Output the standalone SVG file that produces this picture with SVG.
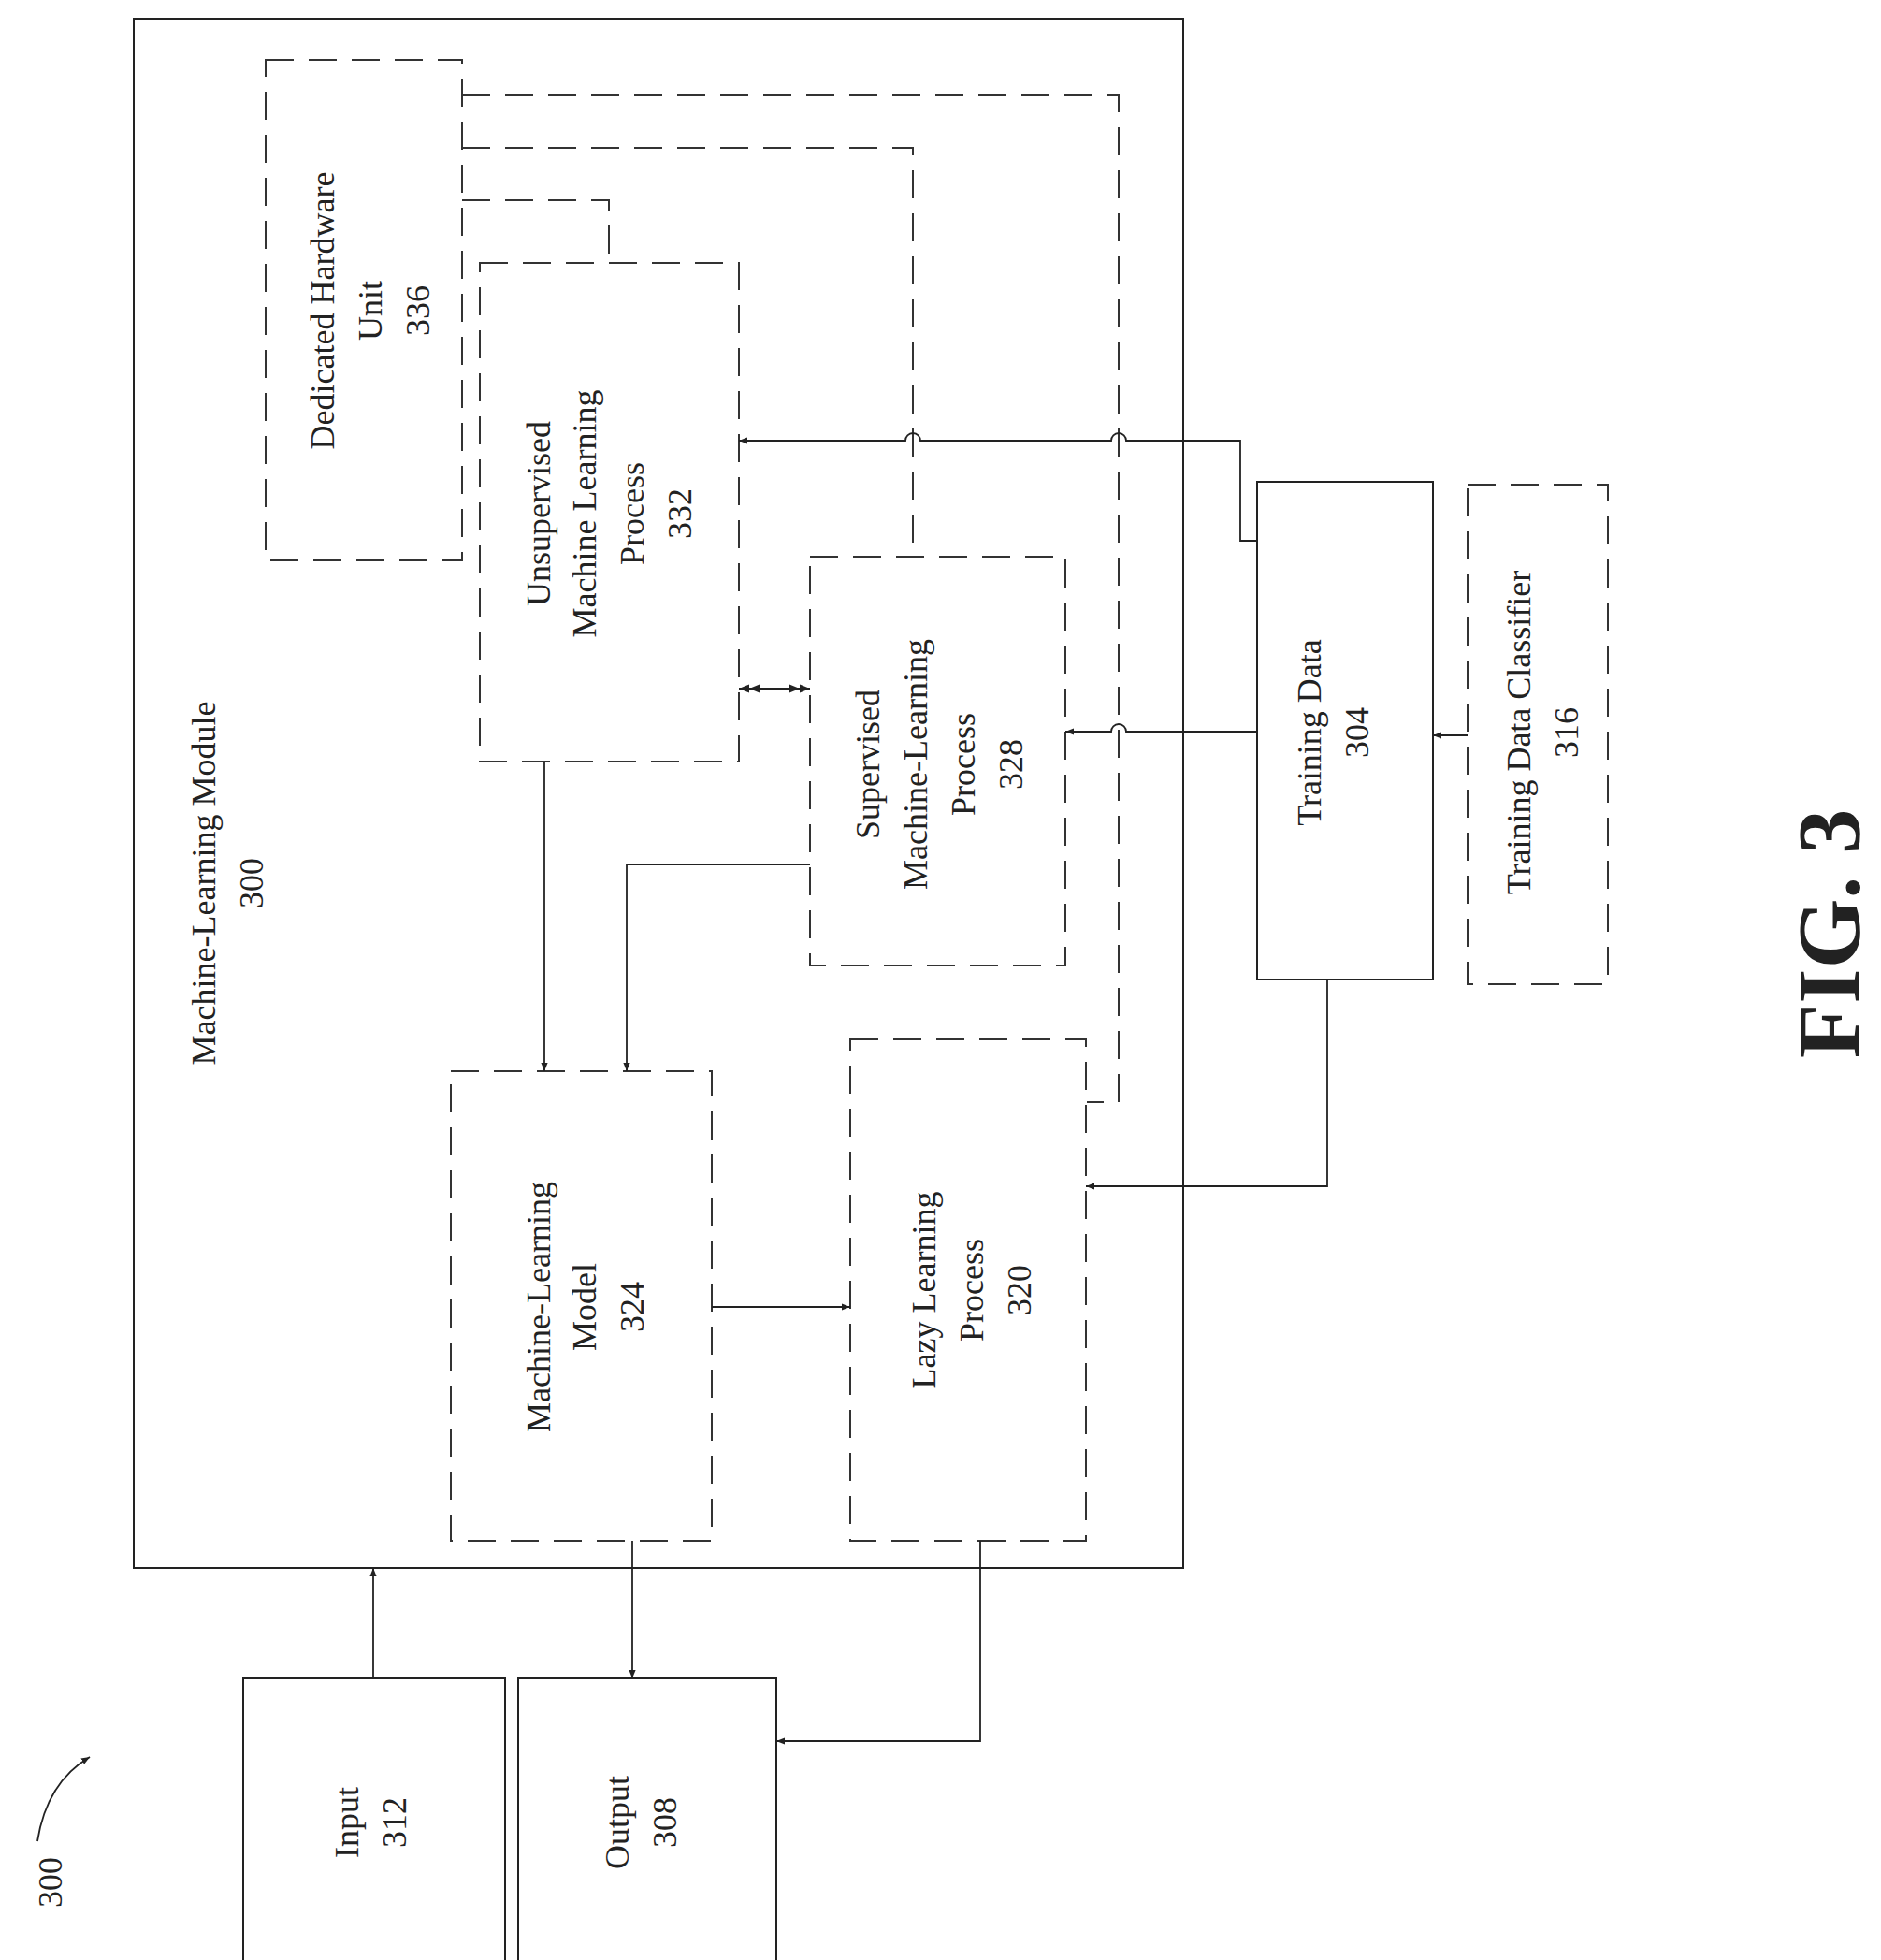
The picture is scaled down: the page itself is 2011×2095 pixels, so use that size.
<svg xmlns="http://www.w3.org/2000/svg" width="2011" height="2095" viewBox="0 0 2011 2095">
<style>
.s{fill:none;stroke:#222;stroke-width:2}
.d{fill:none;stroke:#333;stroke-width:2;stroke-dasharray:30 16}
.c{fill:none;stroke:#222;stroke-width:1.8}
text{font-family:"Liberation Serif","Times New Roman",serif;font-size:36px;fill:#222;text-anchor:middle;dominant-baseline:central}
</style>
<defs>
<marker id="a" viewBox="0 0 10 10" refX="10" refY="5" markerWidth="9" markerHeight="9" markerUnits="userSpaceOnUse" orient="auto-start-reverse"><path d="M0,1 L10,5 L0,9 Z" fill="#222"/></marker>
<marker id="a2" viewBox="0 0 20 10" refX="20" refY="5" markerWidth="22" markerHeight="11" markerUnits="userSpaceOnUse" orient="auto-start-reverse"><path d="M0,1 L10,5 L0,9 Z M10,1 L20,5 L10,9 Z" fill="#222"/></marker>
</defs>
<g id="module300"><rect class="s" x="143" y="20" width="1122" height="1656"/>
<text transform="translate(218,944) rotate(-90)" x="0" y="0">Machine-Learning Module</text>
<text transform="translate(269,944) rotate(-90)">300</text></g>
<g id="hw336"><rect class="d" x="284" y="64" width="210" height="535"/>
<text transform="translate(345,332) rotate(-90)">Dedicated Hardware</text>
<text transform="translate(396,332) rotate(-90)">Unit</text>
<text transform="translate(447,332) rotate(-90)">336</text></g>
<g id="unsup332"><rect class="d" x="513" y="281" width="277" height="533"/>
<text transform="translate(576,549) rotate(-90)">Unsupervised</text>
<text transform="translate(625,549) rotate(-90)">Machine Learning</text>
<text transform="translate(676,549) rotate(-90)">Process</text>
<text transform="translate(727,549) rotate(-90)">332</text></g>
<g id="sup328"><rect class="d" x="866" y="595" width="273" height="437"/>
<text transform="translate(928,817) rotate(-90)">Supervised</text>
<text transform="translate(979,817) rotate(-90)">Machine-Learning</text>
<text transform="translate(1030,817) rotate(-90)">Process</text>
<text transform="translate(1081,817) rotate(-90)">328</text></g>
<g id="train304"><rect class="s" x="1344" y="515" width="188" height="532"/>
<text transform="translate(1400,783) rotate(-90)">Training Data</text>
<text transform="translate(1451,783) rotate(-90)">304</text></g>
<g id="classifier316"><rect class="d" x="1569" y="518" width="150" height="534"/>
<text transform="translate(1624,783) rotate(-90)">Training Data Classifier</text>
<text transform="translate(1675,783) rotate(-90)">316</text></g>
<g id="model324"><rect class="d" x="482" y="1145" width="279" height="502"/>
<text transform="translate(576,1397) rotate(-90)">Machine-Learning</text>
<text transform="translate(625,1397) rotate(-90)">Model</text>
<text transform="translate(676,1397) rotate(-90)">324</text></g>
<g id="lazy320"><rect class="d" x="909" y="1111" width="252" height="536"/>
<text transform="translate(988,1379) rotate(-90)">Lazy Learning</text>
<text transform="translate(1039,1379) rotate(-90)">Process</text>
<text transform="translate(1090,1379) rotate(-90)">320</text></g>
<g id="input312"><rect class="s" x="260" y="1794" width="280" height="310"/>
<text transform="translate(371,1948) rotate(-90)">Input</text>
<text transform="translate(422,1948) rotate(-90)">312</text></g>
<g id="output308"><rect class="s" x="554" y="1794" width="276" height="310"/>
<text transform="translate(660,1948) rotate(-90)">Output</text>
<text transform="translate(711,1948) rotate(-90)">308</text></g>
<g id="label300"><text transform="translate(54,2012) rotate(-90)">300</text>
<path class="c" d="M40,1968 Q50,1905 96,1878" marker-end="url(#a)"/></g>
<g id="fig"><text transform="translate(1955,998) rotate(-90)" style="font-size:96px;font-weight:bold">FIG. 3</text></g>
<g id="connectors">
<path class="d" d="M494,102 H1196 V1178 H1162"/>
<path class="d" d="M494,158 H976 V595"/>
<path class="d" d="M494,214 H651 V281"/>
<path class="c" d="M1344,578 H1326 V471 H1204 A8,8 0 0 0 1188,471 H984 A8,8 0 0 0 968,471 H790" marker-end="url(#a)"/>
<path class="c" d="M1344,782 H1204 A8,8 0 0 0 1188,782 H1139" marker-end="url(#a)"/>
<path class="c" d="M1569,786 H1532" marker-end="url(#a)"/>
<path class="c" d="M1419,1047 V1268 H1161" marker-end="url(#a)"/>
<path class="c" d="M790,736 H866" marker-start="url(#a2)" marker-end="url(#a2)"/>
<path class="c" d="M582,814 V1145" marker-end="url(#a)"/>
<path class="c" d="M866,924 H670 V1145" marker-end="url(#a)"/>
<path class="c" d="M761,1397 H909" marker-end="url(#a)"/>
<path class="c" d="M676,1647 V1794" marker-end="url(#a)"/>
<path class="c" d="M399,1794 V1676" marker-end="url(#a)"/>
<path class="c" d="M1048,1647 V1861 H830" marker-end="url(#a)"/>
</g>
</svg>
